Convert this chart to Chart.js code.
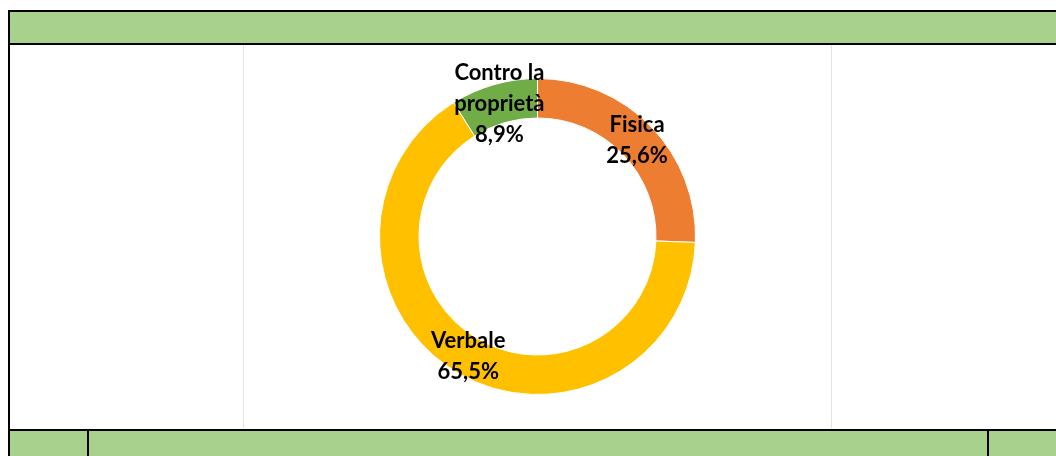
<!DOCTYPE html>
<html>
<head>
<meta charset="utf-8">
<script src="https://cdn.jsdelivr.net/npm/chart.js@4/dist/chart.umd.min.js"></script>
<style>
  body { margin: 0; background: #fff; width: 1056px; height: 456px; overflow: hidden; position: relative; }
  .blk { position: absolute; background: #000; }
  .grn { position: absolute; background: #a9d18e; }
  #box { position: absolute; left: 243px; top: 45px; width: 587px; height: 383px; border-left: 1px solid #e3e3e3; border-right: 1px solid #e3e3e3; }
</style>
</head>
<body>
<div class="grn" style="left:10px;top:12px;width:1046px;height:31px"></div>
<div class="blk" style="left:8px;top:10px;width:1048px;height:2px"></div>
<div class="blk" style="left:8px;top:43px;width:1048px;height:2px"></div>
<div class="blk" style="left:8px;top:10px;width:2px;height:446px"></div>
<div class="grn" style="left:10px;top:431px;width:1046px;height:25px"></div>
<div class="blk" style="left:8px;top:429px;width:1048px;height:2px"></div>
<div class="blk" style="left:87px;top:431px;width:2px;height:25px"></div>
<div class="blk" style="left:987px;top:431px;width:2px;height:25px"></div>
<div id="box"><canvas id="chart-torta"></canvas></div>
<script>
var categorie = ["Fisica", "Verbale", "Contro la proprietà"];
var percentuali = [25.6, 65.5, 8.9];
var colori = ["#ed7d31", "#ffc000", "#70ad47"];

// etichette dentro l'anello, come in Excel
var etichette = {
  id: "etichette",
  afterDatasetsDraw: function (chart) {
    var ctx = chart.ctx;
    var archi = chart.getDatasetMeta(0).data;
    ctx.save();
    ctx.font = "bold 22px Lato";
    ctx.fillStyle = "#000";
    ctx.textAlign = "center";
    ctx.textBaseline = "middle";
    archi.forEach(function (arco, i) {
      var p = arco.tooltipPosition();
      var righe = [];
      var parole = categorie[i].split(" ");
      var riga = "";
      parole.forEach(function (w) {
        var prova = riga ? riga + " " + w : w;
        if (riga && ctx.measureText(prova).width > 100) {
          righe.push(riga);
          riga = w;
        } else {
          riga = prova;
        }
      });
      righe.push(riga);
      righe.push(percentuali[i].toFixed(1).replace(".", ",") + "%");
      var lh = 31;
      var y0 = p.y - (righe.length - 1) * lh / 2;
      righe.forEach(function (t, k) {
        ctx.fillText(t, p.x, y0 + k * lh);
      });
    });
    ctx.restore();
  }
};

var ctx = document.getElementById("chart-torta").getContext("2d");
var chartTorta = new Chart(ctx, {
  type: "doughnut",
  data: {
    labels: categorie,
    datasets: [
      {
        data: percentuali,
        backgroundColor: colori,
        borderColor: "#fff",
        borderWidth: 1,
      },
    ],
  },
  options: {
    responsive: true,
    maintainAspectRatio: false,
    animation: false,
    cutout: "75%",
    layout: { padding: 33 },
    plugins: {
      legend: { display: false },
      tooltip: { enabled: false },
    },
  },
  plugins: [etichette],
});
</script>
</body>
</html>
